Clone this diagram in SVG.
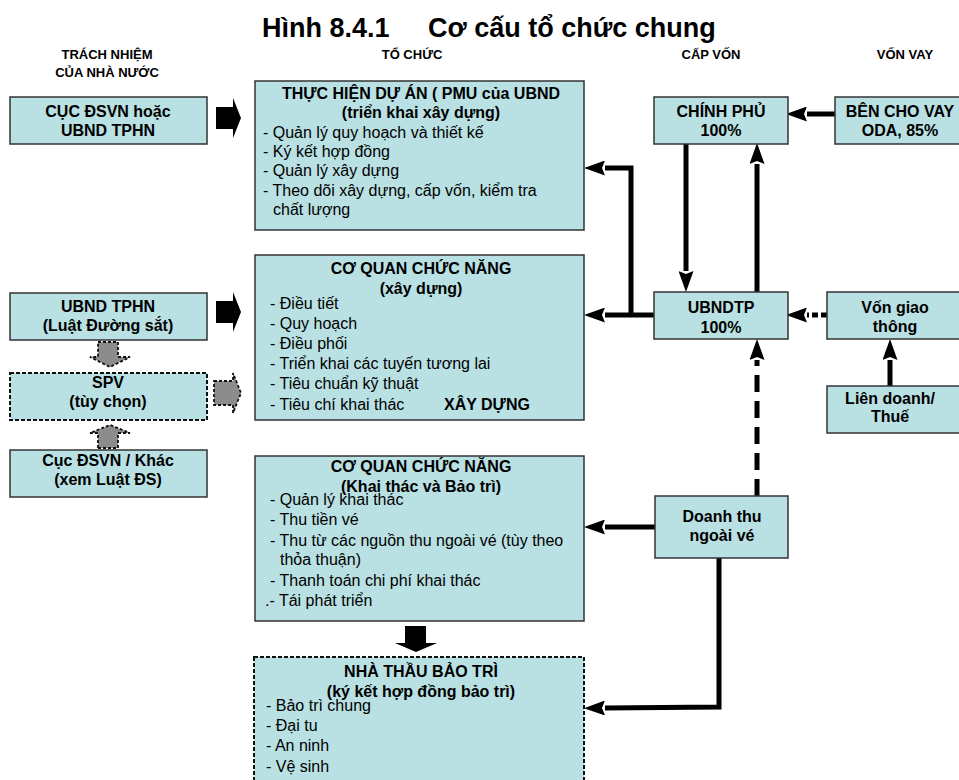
<svg xmlns="http://www.w3.org/2000/svg" width="959" height="780" viewBox="0 0 959 780">
<defs>
<style>
.box{fill:#B9E0E3;stroke:#333;stroke-width:1.5}
.dbox{fill:#B9E0E3;stroke:#111;stroke-width:2;stroke-dasharray:4 2}
.t{font-family:"Liberation Sans",Arial,sans-serif;font-size:16px;fill:#000}
.b{font-weight:bold}
.c{text-anchor:middle}
.h{font-family:"Liberation Sans",Arial,sans-serif;font-size:13px;font-weight:bold;text-anchor:middle}
.ln{fill:none;stroke:#000;stroke-width:5}
.blk{fill:#000}
.gry{fill:#8C8C8C;stroke:#111;stroke-width:1.8;stroke-dasharray:3 2}
</style>
<marker id="ah" viewBox="0 0 21 15" refX="0" refY="7.5" markerWidth="21" markerHeight="15" markerUnits="userSpaceOnUse" orient="auto">
<path d="M0,0 L21,7.5 L0,15 L3,7.5 Z" fill="#000"/>
</marker>
</defs>
<rect width="959" height="780" fill="#fff"/>

<g id="title">
<text class="t b" style="font-size:27px" x="262" y="37">Hình 8.4.1<tspan x="428">Cơ cấu tổ chức chung</tspan></text>
</g>
<g id="headers">
<text class="h" x="107" y="59">TRÁCH NHIỆM</text>
<text class="h" x="107" y="77">CỦA NHÀ NƯỚC</text>
<text class="h" x="412" y="59">TỔ CHỨC</text>
<text class="h" x="711" y="59">CẤP VỐN</text>
<text class="h" x="905" y="59">VỐN VAY</text>
</g>

<g id="connectors">
<line class="ln" x1="835" y1="114" x2="807" y2="114" marker-end="url(#ah)"/>
<line class="ln" x1="686" y1="143" x2="686" y2="271" marker-end="url(#ah)"/>
<line class="ln" x1="757" y1="292" x2="757" y2="164" marker-end="url(#ah)"/>
<line class="ln" x1="654" y1="315" x2="605" y2="315" marker-end="url(#ah)"/>
<polyline class="ln" points="631,317 631,168 605,168" marker-end="url(#ah)"/>
<line class="ln" x1="827" y1="315" x2="807" y2="315" stroke-dasharray="6 3" marker-end="url(#ah)"/>
<line class="ln" x1="890" y1="386" x2="890" y2="360" marker-end="url(#ah)"/>
<line class="ln" x1="757" y1="496" x2="757" y2="360" stroke-dasharray="17 9" marker-end="url(#ah)"/>
<line class="ln" x1="655" y1="527" x2="605" y2="527" marker-end="url(#ah)"/>
<polyline class="ln" points="719,558 719,707 605,708" marker-end="url(#ah)"/>
<path class="blk" d="M216,107 H233 V98 L241,118 L233,138 V129 H216 Z"/>
<path class="blk" d="M216,301 H233 V292 L241,312 L233,332 V323 H216 Z"/>
<path class="blk" d="M405,626 H426 V643 H437 L416,652 L395,643 H405 Z"/>
<path class="gry" d="M214,381 H233 V373 L241,393 L233,413 V405 H214 Z"/>
<path class="gry" d="M98,342 H118 V357 H130 L110,367 L90,357 H98 Z"/>
<path class="gry" d="M98,448 H118 V433 H130 L110,425 L90,433 H98 Z"/>
</g>

<g id="n-cucdsvn">
<rect class="box" x="10" y="97" width="197" height="47"/>
<text class="t b c" x="108" y="117">CỤC ĐSVN hoặc</text>
<text class="t b c" x="108" y="136">UBND TPHN</text>
</g>
<g id="n-ubndtphn">
<rect class="box" x="10" y="293" width="197" height="47"/>
<text class="t b c" x="108" y="312">UBND TPHN</text>
<text class="t b c" x="108" y="331">(Luật Đường sắt)</text>
</g>
<g id="n-spv">
<rect class="dbox" x="10" y="373" width="197" height="47"/>
<text class="t b c" x="108" y="388">SPV</text>
<text class="t b c" x="108" y="407">(tùy chọn)</text>
</g>
<g id="n-cuckhac">
<rect class="box" x="10" y="450" width="197" height="47"/>
<text class="t b c" x="108" y="466">Cục ĐSVN / Khác</text>
<text class="t b c" x="108" y="485">(xem Luật ĐS)</text>
</g>

<g id="n-thuchien">
<rect class="box" x="255" y="81" width="329" height="149"/>
<text class="t b c" x="421" y="99">THỰC HIỆN DỰ ÁN ( PMU của UBND</text>
<text class="t b c" x="421" y="118">(triển khai xây dựng)</text>
<text class="t" x="263" y="138">- Quản lý quy hoạch và thiết kế</text>
<text class="t" x="263" y="157">- Ký kết hợp đồng</text>
<text class="t" x="263" y="176">- Quản lý xây dựng</text>
<text class="t" x="263" y="196">- Theo dõi xây dựng, cấp vốn, kiểm tra</text>
<text class="t" x="273" y="215">chất lượng</text>
</g>
<g id="n-cqxd">
<rect class="box" x="255" y="255" width="329" height="165"/>
<text class="t b c" x="421" y="274">CƠ QUAN CHỨC NĂNG</text>
<text class="t b c" x="421" y="294">(xây dựng)</text>
<text class="t" x="270" y="309">- Điều tiết</text>
<text class="t" x="270" y="329">- Quy hoạch</text>
<text class="t" x="270" y="349">- Điều phối</text>
<text class="t" x="270" y="369">- Triển khai các tuyến tương lai</text>
<text class="t" x="270" y="389">- Tiêu chuẩn kỹ thuật</text>
<text class="t" x="270" y="410">- Tiêu chí khai thác</text>
<text class="t b" x="444" y="410">XÂY DỰNG</text>
</g>
<g id="n-cqkt">
<rect class="box" x="255" y="456" width="329" height="165"/>
<text class="t b c" x="421" y="472">CƠ QUAN CHỨC NĂNG</text>
<text class="t b c" x="421" y="492">(Khai thác và Bảo trì)</text>
<text class="t" x="270" y="505">- Quản lý khai thác</text>
<text class="t" x="270" y="525">- Thu tiền vé</text>
<text class="t" x="270" y="546">- Thu từ các nguồn thu ngoài vé (tùy theo</text>
<text class="t" x="280" y="565">thỏa thuận)</text>
<text class="t" x="270" y="586">- Thanh toán chi phí khai thác</text>
<text class="t" x="265" y="606">.- Tái phát triển</text>
</g>
<g id="n-nhathau">
<rect class="dbox" x="254" y="657" width="330" height="140"/>
<text class="t b c" x="421" y="677">NHÀ THẦU BẢO TRÌ</text>
<text class="t b c" x="421" y="697">(ký kết hợp đồng bảo trì)</text>
<text class="t" x="266" y="711">- Bảo trì chung</text>
<text class="t" x="266" y="731">- Đại tu</text>
<text class="t" x="266" y="751">- An ninh</text>
<text class="t" x="266" y="772">- Vệ sinh</text>
</g>

<g id="n-chinhphu">
<rect class="box" x="654" y="97" width="134" height="47"/>
<text class="t b c" x="721" y="117">CHÍNH PHỦ</text>
<text class="t b c" x="721" y="136">100%</text>
</g>
<g id="n-benchovay">
<rect class="box" x="835" y="97" width="130" height="47"/>
<text class="t b c" x="900" y="117">BÊN CHO VAY</text>
<text class="t b c" x="900" y="136">ODA, 85%</text>
</g>
<g id="n-ubndtp">
<rect class="box" x="654" y="292" width="134" height="47"/>
<text class="t b c" x="721" y="313">UBNDTP</text>
<text class="t b c" x="721" y="333">100%</text>
</g>
<g id="n-vongiaothong">
<rect class="box" x="827" y="292" width="138" height="47"/>
<text class="t b c" x="895" y="313">Vốn giao</text>
<text class="t b c" x="895" y="332">thông</text>
</g>
<g id="n-liendoanh">
<rect class="box" x="827" y="386" width="138" height="47"/>
<text class="t b c" x="890" y="404">Liên doanh/</text>
<text class="t b c" x="890" y="422">Thuế</text>
</g>
<g id="n-doanhthu">
<rect class="box" x="655" y="496" width="133" height="62"/>
<text class="t b c" x="722" y="522">Doanh thu</text>
<text class="t b c" x="722" y="541">ngoài vé</text>
</g>
</svg>
